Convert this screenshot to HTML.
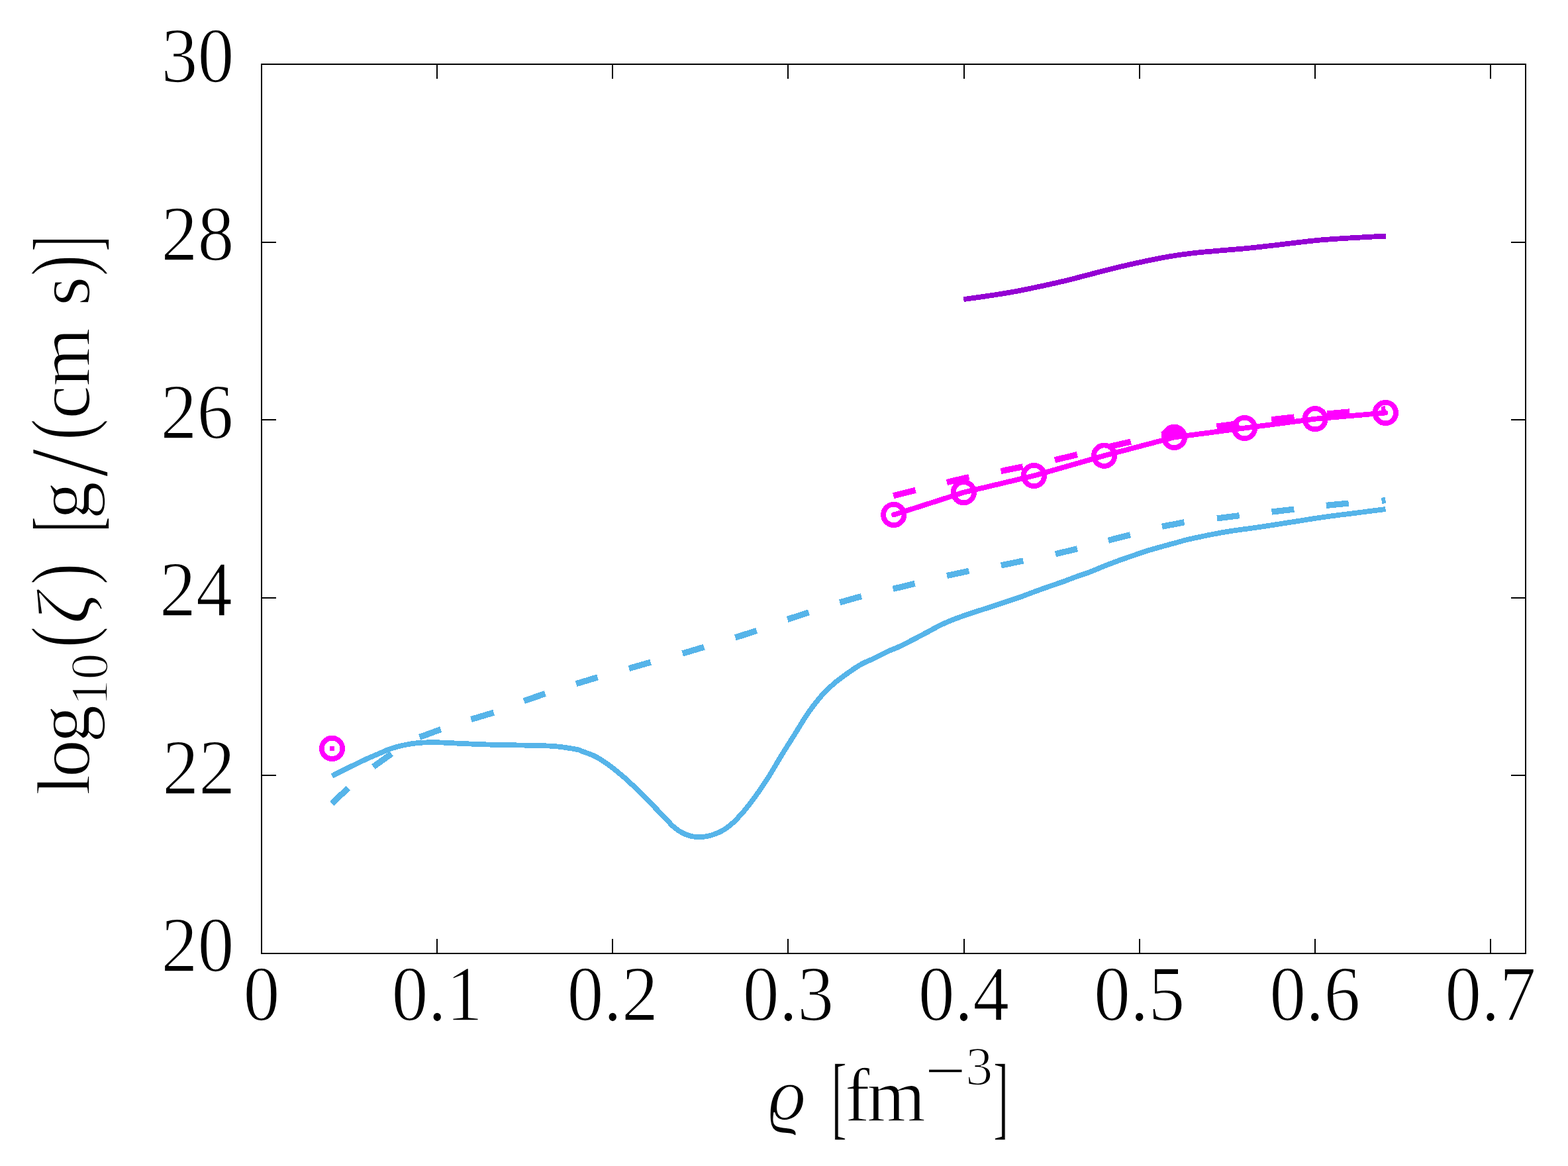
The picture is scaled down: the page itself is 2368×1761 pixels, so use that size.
<!DOCTYPE html><html><head><meta charset="utf-8"><style>html,body{margin:0;padding:0;background:#fff;overflow:hidden}svg{display:block}text{font-family:"Liberation Serif","DejaVu Serif",serif;stroke:#fff;stroke-width:1.7px;stroke-linejoin:round}</style></head><body>
<svg width="2368" height="1761" viewBox="0 0 2368 1761">
<rect x="0" y="0" width="2368" height="1761" fill="#fff"/>
<g fill="none" stroke-linejoin="round" shape-rendering="crispEdges">
<path d="M501.5 1172 L502.08 1171.69 L502.76 1171.32 L503.56 1170.88 L504.5 1170.37 L505.6 1169.78 L506.87 1169.11 L508.33 1168.35 L510 1167.5 L511.95 1166.52 L514.19 1165.4 L516.66 1164.17 L519.28 1162.88 L521.99 1161.54 L524.73 1160.19 L527.42 1158.86 L530 1157.6 L532.5 1156.37 L535 1155.14 L537.5 1153.9 L540 1152.67 L542.5 1151.46 L545 1150.25 L547.5 1149.06 L550 1147.9 L552.5 1146.76 L555 1145.65 L557.5 1144.55 L560 1143.47 L562.5 1142.4 L565 1141.33 L567.5 1140.27 L570 1139.2 L572.5 1138.12 L575 1137.01 L577.5 1135.9 L580 1134.79 L582.5 1133.72 L585 1132.68 L587.5 1131.7 L590 1130.8 L592.5 1129.97 L595 1129.19 L597.5 1128.46 L600 1127.78 L602.5 1127.13 L605 1126.53 L607.5 1125.95 L610 1125.4 L612.5 1124.88 L615 1124.39 L617.5 1123.94 L620 1123.52 L622.5 1123.13 L625 1122.79 L627.5 1122.47 L630 1122.2 L632.5 1121.97 L635 1121.79 L637.5 1121.64 L640 1121.53 L642.5 1121.45 L645 1121.39 L647.5 1121.34 L650 1121.3 L652.5 1121.28 L655 1121.27 L657.5 1121.29 L660 1121.33 L662.5 1121.38 L665 1121.45 L667.5 1121.52 L670 1121.6 L672.43 1121.69 L674.77 1121.79 L677.06 1121.91 L679.38 1122.04 L681.77 1122.17 L684.3 1122.31 L687.02 1122.46 L690 1122.6 L693.27 1122.75 L696.8 1122.91 L700.52 1123.08 L704.38 1123.25 L708.31 1123.42 L712.27 1123.59 L716.18 1123.75 L720 1123.9 L723.75 1124.04 L727.5 1124.18 L731.25 1124.32 L735 1124.45 L738.75 1124.57 L742.5 1124.69 L746.25 1124.8 L750 1124.9 L753.75 1124.99 L757.5 1125.06 L761.25 1125.12 L765 1125.18 L768.75 1125.23 L772.5 1125.28 L776.25 1125.34 L780 1125.4 L783.75 1125.47 L787.5 1125.53 L791.25 1125.59 L795 1125.65 L798.75 1125.72 L802.5 1125.8 L806.25 1125.89 L810 1126 L813.75 1126.11 L817.5 1126.2 L821.25 1126.3 L825 1126.41 L828.75 1126.55 L832.5 1126.74 L836.25 1126.98 L840 1127.3 L843.89 1127.71 L847.97 1128.21 L852.13 1128.77 L856.25 1129.37 L860.21 1129.99 L863.91 1130.6 L867.21 1131.18 L870 1131.7 L872.14 1132.13 L873.67 1132.49 L874.78 1132.81 L875.62 1133.12 L876.4 1133.47 L877.27 1133.87 L878.41 1134.37 L880 1135 L882.02 1135.74 L884.3 1136.55 L886.77 1137.44 L889.38 1138.4 L892.06 1139.43 L894.77 1140.55 L897.43 1141.73 L900 1143 L902.5 1144.36 L905 1145.81 L907.5 1147.34 L910 1148.95 L912.5 1150.62 L915 1152.34 L917.5 1154.11 L920 1155.9 L922.5 1157.74 L925 1159.63 L927.5 1161.57 L930 1163.56 L932.5 1165.6 L935 1167.67 L937.5 1169.77 L940 1171.9 L942.5 1174.06 L945 1176.27 L947.5 1178.51 L950 1180.79 L952.5 1183.1 L955 1185.44 L957.5 1187.81 L960 1190.2 L962.5 1192.63 L965 1195.12 L967.5 1197.64 L970 1200.18 L972.5 1202.74 L975 1205.31 L977.5 1207.86 L980 1210.4 L982.5 1212.92 L985 1215.45 L987.5 1217.97 L990 1220.49 L992.5 1223.01 L995 1225.54 L997.5 1228.07 L1000 1230.6 L1002.5 1233.21 L1005 1235.91 L1007.5 1238.66 L1010 1241.39 L1012.5 1244.04 L1015 1246.57 L1017.5 1248.91 L1020 1251 L1022.5 1252.87 L1025 1254.58 L1027.5 1256.14 L1030 1257.54 L1032.5 1258.81 L1035 1259.94 L1037.5 1260.93 L1040 1261.8 L1042.5 1262.52 L1045 1263.09 L1047.5 1263.51 L1050 1263.8 L1052.5 1263.97 L1055 1264.04 L1057.5 1264.01 L1060 1263.9 L1062.5 1263.71 L1065 1263.41 L1067.5 1263.02 L1070 1262.52 L1072.5 1261.92 L1075 1261.22 L1077.5 1260.41 L1080 1259.5 L1082.5 1258.5 L1085 1257.41 L1087.5 1256.23 L1090 1254.94 L1092.5 1253.53 L1095 1252 L1097.5 1250.32 L1100 1248.5 L1102.5 1246.52 L1105 1244.38 L1107.5 1242.1 L1110 1239.69 L1112.5 1237.18 L1115 1234.56 L1117.5 1231.86 L1120 1229.1 L1122.5 1226.25 L1125 1223.28 L1127.5 1220.22 L1130 1217.07 L1132.5 1213.84 L1135 1210.54 L1137.5 1207.19 L1140 1203.8 L1142.5 1200.36 L1145 1196.85 L1147.5 1193.28 L1150 1189.65 L1152.5 1185.96 L1155 1182.2 L1157.5 1178.38 L1160 1174.5 L1162.5 1170.52 L1165 1166.42 L1167.5 1162.24 L1170 1158.01 L1172.5 1153.76 L1175 1149.52 L1177.5 1145.32 L1180 1141.2 L1182.5 1137.14 L1185 1133.12 L1187.5 1129.13 L1190 1125.16 L1192.5 1121.19 L1195 1117.24 L1197.5 1113.27 L1200 1109.3 L1202.5 1105.28 L1205 1101.21 L1207.5 1097.11 L1210 1093.03 L1212.5 1089 L1215 1085.04 L1217.5 1081.2 L1220 1077.5 L1222.5 1073.93 L1225 1070.44 L1227.5 1067.04 L1230 1063.73 L1232.5 1060.52 L1235 1057.41 L1237.5 1054.4 L1240 1051.5 L1242.5 1048.72 L1245 1046.07 L1247.5 1043.52 L1250 1041.08 L1252.5 1038.71 L1255 1036.42 L1257.5 1034.19 L1260 1032 L1262.5 1029.88 L1265 1027.85 L1267.5 1025.9 L1270 1024.01 L1272.5 1022.16 L1275 1020.36 L1277.5 1018.57 L1280 1016.8 L1282.5 1015.03 L1285 1013.27 L1287.5 1011.53 L1290 1009.83 L1292.5 1008.18 L1295 1006.58 L1297.5 1005.05 L1300 1003.6 L1302.5 1002.26 L1305 1001.02 L1307.5 999.86 L1310 998.76 L1312.5 997.67 L1315 996.59 L1317.5 995.47 L1320 994.3 L1322.5 993.06 L1325 991.79 L1327.5 990.5 L1330 989.2 L1332.5 987.91 L1335 986.63 L1337.5 985.39 L1340 984.2 L1342.5 983.07 L1345 982 L1347.5 980.97 L1350 979.96 L1352.5 978.94 L1355 977.91 L1357.5 976.83 L1360 975.7 L1362.5 974.51 L1365 973.28 L1367.5 972.01 L1370 970.73 L1372.5 969.42 L1375 968.11 L1377.5 966.8 L1380 965.5 L1382.5 964.2 L1385 962.9 L1387.5 961.59 L1390 960.28 L1392.5 958.97 L1395 957.65 L1397.5 956.32 L1400 955 L1402.5 953.66 L1405 952.29 L1407.5 950.91 L1410 949.54 L1412.5 948.17 L1415 946.84 L1417.5 945.54 L1420 944.3 L1422.5 943.11 L1425 941.95 L1427.5 940.83 L1430 939.73 L1432.5 938.66 L1435 937.62 L1437.5 936.6 L1440 935.6 L1442.5 934.62 L1445 933.68 L1447.5 932.76 L1450 931.87 L1452.5 930.99 L1455 930.12 L1457.5 929.26 L1460 928.4 L1462.5 927.54 L1465 926.7 L1467.5 925.87 L1470 925.05 L1472.5 924.23 L1475 923.42 L1477.5 922.61 L1480 921.8 L1482.5 920.99 L1485 920.2 L1487.5 919.4 L1490 918.61 L1492.5 917.82 L1495 917.02 L1497.5 916.22 L1500 915.4 L1502.5 914.57 L1505 913.72 L1507.5 912.87 L1510 912.01 L1512.5 911.15 L1515 910.3 L1517.5 909.44 L1520 908.6 L1522.5 907.77 L1525 906.96 L1527.5 906.15 L1530 905.34 L1532.5 904.53 L1535 903.71 L1537.5 902.87 L1540 902 L1542.49 901.11 L1544.96 900.2 L1547.43 899.27 L1549.9 898.33 L1552.38 897.37 L1554.89 896.42 L1557.42 895.46 L1560 894.5 L1562.62 893.54 L1565.29 892.56 L1567.98 891.58 L1570.7 890.59 L1573.43 889.61 L1576.16 888.63 L1578.89 887.66 L1581.6 886.7 L1584.3 885.76 L1587 884.84 L1589.7 883.93 L1592.4 883.02 L1595.1 882.11 L1597.8 881.19 L1600.5 880.26 L1603.2 879.3 L1605.9 878.32 L1608.6 877.31 L1611.3 876.29 L1614 875.26 L1616.7 874.22 L1619.4 873.2 L1622.1 872.19 L1624.8 871.2 L1627.5 870.24 L1630.2 869.32 L1632.9 868.41 L1635.6 867.5 L1638.3 866.59 L1641 865.66 L1643.7 864.7 L1646.4 863.7 L1649.1 862.65 L1651.8 861.56 L1654.5 860.43 L1657.2 859.29 L1659.9 858.15 L1662.6 857.01 L1665.3 855.89 L1668 854.8 L1670.7 853.74 L1673.4 852.68 L1676.1 851.64 L1678.8 850.61 L1681.5 849.59 L1684.2 848.58 L1686.9 847.59 L1689.6 846.6 L1692.3 845.63 L1695 844.67 L1697.7 843.73 L1700.4 842.79 L1703.1 841.87 L1705.8 840.94 L1708.5 840.02 L1711.2 839.1 L1713.9 838.17 L1716.6 837.24 L1719.3 836.3 L1722 835.37 L1724.7 834.45 L1727.4 833.54 L1730.1 832.66 L1732.8 831.8 L1735.5 830.97 L1738.2 830.17 L1740.9 829.38 L1743.6 828.61 L1746.3 827.85 L1749 827.1 L1751.7 826.35 L1754.4 825.6 L1757.08 824.85 L1759.74 824.11 L1762.39 823.38 L1765.05 822.66 L1767.72 821.93 L1770.43 821.2 L1773.19 820.45 L1776 819.7 L1778.71 818.96 L1781.22 818.24 L1783.68 817.52 L1786.22 816.8 L1788.99 816.04 L1792.12 815.24 L1795.74 814.36 L1800 813.4 L1805.01 812.32 L1810.67 811.11 L1816.85 809.83 L1823.38 808.51 L1830.11 807.17 L1836.89 805.87 L1843.57 804.63 L1850 803.5 L1856.25 802.47 L1862.5 801.52 L1868.75 800.62 L1875 799.76 L1881.25 798.92 L1887.5 798.07 L1893.75 797.21 L1900 796.3 L1906.25 795.36 L1912.5 794.41 L1918.75 793.45 L1925 792.49 L1931.25 791.52 L1937.5 790.54 L1943.75 789.57 L1950 788.6 L1956.25 787.62 L1962.5 786.62 L1968.75 785.62 L1975 784.62 L1981.25 783.63 L1987.5 782.65 L1993.75 781.71 L2000 780.8 L2006.3 779.93 L2012.68 779.08 L2019.08 778.25 L2025.47 777.45 L2031.8 776.67 L2038.03 775.9 L2044.11 775.14 L2050 774.4 L2055.96 773.64 L2062.15 772.85 L2068.35 772.06 L2074.38 771.3 L2080 770.59 L2085.04 769.95 L2089.27 769.41 L2092.5 769" stroke="#56b4e9" stroke-width="7.8" stroke-linecap="butt"/>
<path d="M501.25 1213.4 L525.8 1190.3 M563.8 1158.1 L591.3 1138.3 M633.7 1113.3 L665.7 1101.6 M711.5 1086.5 L745.7 1076.2 M791.2 1058.57 L823.4 1047.63 M870.03 1032.73 L902.57 1022.87 M949.95 1009.55 L982.65 1000.25 M1030.69 986.9 L1063.31 977.3 M1110.35 963.01 L1142.65 952.39 M1189.17 935.46 L1221.43 924.74 M1268.23 909.78 L1300.97 900.62 M1348.68 889.41 L1381.72 881.39 M1430.08 869.46 L1463.32 862.34 M1511.94 853.77 L1545.26 847.03 M1593.86 836.73 L1626.94 828.87 M1673.92 816.17 L1706.88 807.83 M1755 795.17 L1788.4 788.83 M1838.03 782.93 L1871.77 778.67 M1920.51 773.06 L1954.29 769.14 M2002.88 763.38 L2036.72 760.02 M2086.5 756.3 L2092.5 755.6" stroke="#56b4e9" stroke-width="9.2" stroke-linecap="butt"/>
<path d="M1349.2 748.7 L1382.7 740.3 M1429.9 728.4 L1463.4 720.6 M1511.6 711.6 L1544.7 704.8 M1593 694.7 L1627 686.6 M1674.74 674.74 L1707.86 667.06 M1754.06 656.39 L1787.54 650.41 M1837.44 643.98 L1871.16 639.62 M1920.3 633.8 L1954.5 630 M2004.07 625.03 L2037.93 621.97 M2086 618.5 L2092.5 617.8" stroke="#ff00ff" stroke-width="9.2" stroke-linecap="butt"/>
<path d="M1349.8 777.5 L1455.3 743.7 L1561.4 718.5 L1667.6 688.2 L1773.4 660.4 L1879.6 646.5 L1986.1 632.7 L2092.3 623.5" stroke="#ff00ff" stroke-width="7.8" stroke-linecap="round"/>
<circle cx="1349.8" cy="777.5" r="15.7" stroke="#ff00ff" stroke-width="7.8"/>
<circle cx="1455.3" cy="743.7" r="15.7" stroke="#ff00ff" stroke-width="7.8"/>
<circle cx="1561.4" cy="718.5" r="15.7" stroke="#ff00ff" stroke-width="7.8"/>
<circle cx="1667.6" cy="688.2" r="15.7" stroke="#ff00ff" stroke-width="7.8"/>
<circle cx="1773.4" cy="660.4" r="15.7" stroke="#ff00ff" stroke-width="7.8"/>
<circle cx="1879.6" cy="646.5" r="15.7" stroke="#ff00ff" stroke-width="7.8"/>
<circle cx="1986.1" cy="632.7" r="15.7" stroke="#ff00ff" stroke-width="7.8"/>
<circle cx="2092.3" cy="623.5" r="15.7" stroke="#ff00ff" stroke-width="7.8"/>
<circle cx="501.5" cy="1130.4" r="15.7" stroke="#ff00ff" stroke-width="7.8"/>
</g>
<rect x="498" y="1126.8" width="7.2" height="7.2" rx="1.6" fill="#ff00ff" shape-rendering="crispEdges"/>
<path d="M1455.2 452.1 L1457.85 451.73 L1461.33 451.25 L1465.47 450.69 L1470.1 450.05 L1475.04 449.36 L1480.12 448.65 L1485.16 447.92 L1490 447.2 L1494.75 446.48 L1499.63 445.75 L1504.62 444.98 L1509.67 444.2 L1514.77 443.39 L1519.88 442.55 L1524.96 441.69 L1530 440.8 L1535 439.88 L1540 438.92 L1545 437.93 L1550 436.91 L1555 435.88 L1560 434.83 L1565 433.77 L1570 432.7 L1575 431.63 L1580 430.54 L1585 429.45 L1590 428.34 L1595 427.21 L1600 426.06 L1605 424.89 L1610 423.7 L1615.07 422.46 L1620.23 421.16 L1625.44 419.82 L1630.62 418.47 L1635.73 417.13 L1640.7 415.82 L1645.48 414.57 L1650 413.4 L1654.16 412.32 L1657.97 411.33 L1661.54 410.39 L1665 409.48 L1668.46 408.58 L1672.03 407.67 L1675.84 406.72 L1680 405.7 L1684.52 404.61 L1689.3 403.48 L1694.27 402.31 L1699.38 401.12 L1704.56 399.94 L1709.77 398.76 L1714.93 397.61 L1720 396.5 L1725 395.42 L1730 394.35 L1735 393.29 L1740 392.24 L1745 391.23 L1750 390.24 L1755 389.3 L1760 388.4 L1765 387.54 L1770 386.72 L1775 385.93 L1780 385.18 L1785 384.46 L1790 383.78 L1795 383.12 L1800 382.5 L1805 381.92 L1810 381.39 L1815 380.9 L1820 380.44 L1825 380 L1830 379.57 L1835 379.14 L1840 378.7 L1845.14 378.25 L1850.47 377.79 L1855.88 377.34 L1861.25 376.89 L1866.46 376.46 L1871.41 376.05 L1875.96 375.66 L1880 375.3 L1883.39 374.98 L1886.17 374.71 L1888.53 374.47 L1890.62 374.25 L1892.65 374.03 L1894.77 373.79 L1897.16 373.52 L1900 373.2 L1903.27 372.84 L1906.8 372.45 L1910.52 372.03 L1914.38 371.59 L1918.31 371.15 L1922.27 370.69 L1926.18 370.24 L1930 369.8 L1933.75 369.36 L1937.5 368.91 L1941.25 368.45 L1945 367.99 L1948.75 367.54 L1952.5 367.08 L1956.25 366.64 L1960 366.2 L1963.75 365.77 L1967.5 365.33 L1971.25 364.9 L1975 364.47 L1978.75 364.05 L1982.5 363.65 L1986.25 363.26 L1990 362.9 L1993.75 362.56 L1997.5 362.24 L2001.25 361.94 L2005 361.66 L2008.75 361.38 L2012.5 361.12 L2016.25 360.86 L2020 360.6 L2023.75 360.35 L2027.5 360.11 L2031.25 359.88 L2035 359.66 L2038.75 359.44 L2042.5 359.22 L2046.25 359.01 L2050 358.8 L2053.87 358.58 L2057.91 358.35 L2062.01 358.12 L2066.09 357.9 L2070.02 357.69 L2073.72 357.5 L2077.08 357.33 L2080 357.2 L2082.49 357.11 L2084.67 357.05 L2086.55 357.01 L2088.18 357 L2089.56 357 L2090.74 357 L2091.75 357.01 L2092.6 357" fill="none" stroke="#9400d3" stroke-width="7.8" stroke-linecap="butt" stroke-linejoin="round" shape-rendering="crispEdges"/>
<path d="M395 97 H2304 V1440 H395 Z M660 1440 V1419 M660 97 V118 M925 1440 V1419 M925 97 V118 M1190 1440 V1419 M1190 97 V118 M1456 1440 V1419 M1456 97 V118 M1721 1440 V1419 M1721 97 V118 M1986 1440 V1419 M1986 97 V118 M2251 1440 V1419 M2251 97 V118 M395 1171 H416 M2304 1171 H2283 M395 903 H416 M2304 903 H2283 M395 634 H416 M2304 634 H2283 M395 366 H416 M2304 366 H2283" fill="none" stroke="#000" stroke-width="2" stroke-linecap="square"/>
<text transform="translate(243.46 1467.4) scale(0.93 1)" font-size="118.2">20</text>
<text transform="translate(245.34 1198.8) scale(0.93 1)" font-size="118.2">22</text>
<text transform="translate(240.99 930.2) scale(0.93 1)" font-size="118.2">24</text>
<text transform="translate(242.55 661.6) scale(0.93 1)" font-size="118.2">26</text>
<text transform="translate(243.46 393) scale(0.93 1)" font-size="118.2">28</text>
<text transform="translate(243.46 124.4) scale(0.93 1)" font-size="118.2">30</text>
<text transform="translate(367.52 1541.2) scale(0.93 1)" font-size="118.2">0</text>
<text transform="translate(591.44 1541.2) scale(0.93 1)" font-size="118.2">0.1</text>
<text transform="translate(856.57 1541.2) scale(0.93 1)" font-size="118.2">0.2</text>
<text transform="translate(1121.71 1541.2) scale(0.93 1)" font-size="118.2">0.3</text>
<text transform="translate(1386.85 1541.2) scale(0.93 1)" font-size="118.2">0.4</text>
<text transform="translate(1651.99 1541.2) scale(0.93 1)" font-size="118.2">0.5</text>
<text transform="translate(1917.13 1541.2) scale(0.93 1)" font-size="118.2">0.6</text>
<text transform="translate(2182.27 1541.2) scale(0.93 1)" font-size="118.2">0.7</text>
<g transform="rotate(-90)"><text><tspan x="-1201.34 -1174 -1121.86" y="135.4" font-size="114">log</tspan><tspan x="-1066.11 -1026.5" y="162" font-size="80">10</tspan></text><text transform="translate(-978.11 136.2) scale(0.75 1)" font-size="128.5">(</text><text><tspan x="-942.11" y="135.4" font-size="114" font-style="italic">ζ</tspan></text><text transform="translate(-882.98 136.2) scale(0.75 1)" font-size="128.5">) </text><text transform="translate(-803.49 145.6) scale(0.5 1)" font-size="140">[</text><text><tspan x="-784.36" y="135.4" font-size="114">g</tspan></text><text transform="translate(-720.25 160.5) scale(0.9 1)" font-size="170">/</text><text transform="translate(-664.61 136.2) scale(0.75 1)" font-size="128.5">(</text><text><tspan x="-632.72 -583.64 -582.64 -461.96" y="135.4" font-size="114">cm s</tspan></text><text transform="translate(-416.98 136.2) scale(0.75 1)" font-size="128.5">)</text><text transform="translate(-379.82 145.6) scale(0.5 1)" font-size="140">]</text></g>
<text><tspan x="1160.18 1161.18" y="1691" font-size="112" font-style="italic">ϱ </tspan></text><text transform="translate(1255.51 1702.6) scale(0.5 1)" font-size="140">[</text><text><tspan x="1275.67 1309.31" y="1693" font-size="114">fm</tspan><tspan x="1396.38" y="1654" font-size="110">−</tspan><tspan x="1458.14" y="1638" font-size="82">3</tspan></text><text transform="translate(1499.88 1702.6) scale(0.5 1)" font-size="140">]</text>
</svg></body></html>
